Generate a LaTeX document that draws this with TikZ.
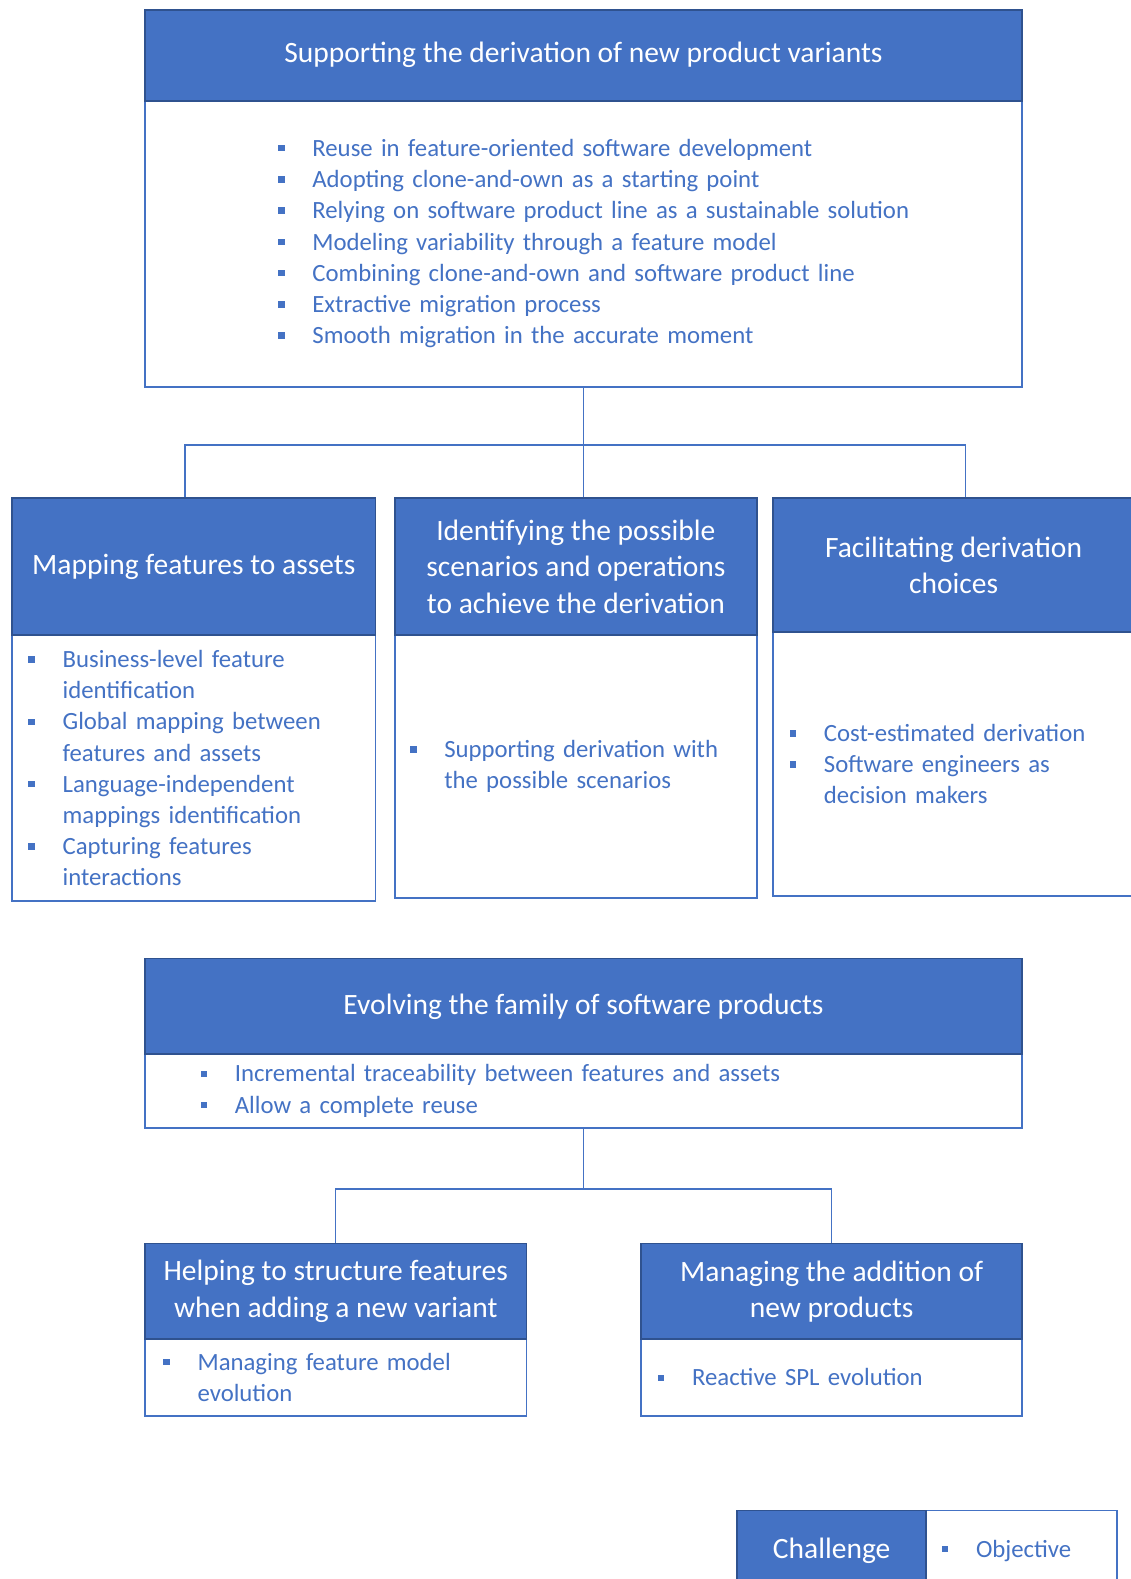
\documentclass[tikz,border=0pt]{standalone}
\usepackage{fontspec}
\setmainfont{Carlito}
\usepackage{tikz}
\usetikzlibrary{positioning,calc}
\definecolor{chblue}{HTML}{4472C4}
\definecolor{chline}{HTML}{2F528F}
\definecolor{objblue}{HTML}{4472C4}
\newcommand{\sqbul}{\textcolor{objblue}{\rule[0.2em]{0.26em}{0.26em}}}
\newenvironment{objlist}{\begin{list}{\sqbul}{\setlength{\leftmargin}{34pt}\setlength{\labelwidth}{34pt}\setlength{\labelsep}{0pt}%
  \setlength{\itemsep}{0pt}\setlength{\parsep}{0pt}\setlength{\topsep}{0pt}\setlength{\partopsep}{0pt}\def\makelabel##1{##1\hfil}}}{\end{list}}

\begin{document}
\begin{tikzpicture}[x=1pt, y=-1pt,
  hdr/.style={draw=chline, line width=1.8pt, fill=chblue, text=white, align=center, inner sep=0pt, anchor=north west, font=\fontsize{29.3pt}{36pt}\selectfont},
  body/.style={draw=chblue, line width=1.8pt, fill=white, inner sep=0pt, anchor=north west},
  lst/.style={text=objblue, align=left, inner sep=0pt, anchor=west, yshift=7pt, font=\fontsize{24.6pt}{31pt}\selectfont},
  link/.style={draw=chblue, line width=1.5pt}]

\useasboundingbox (0,0) rectangle (1123,1568);

\node[body, minimum width=871pt, minimum height=284pt] (btop) at (143,99) {};
\node[hdr, minimum width=871pt, minimum height=90pt] (htop) at (143,9) {Supporting the derivation of new product variants};
\node[lst, text width=720pt] (ltop) at ([xshift=133pt]btop.west) {\begin{objlist}\item Reuse in feature-oriented software development
  \item Adopting clone-and-own as a starting point \item Relying on software product line as a sustainable solution
  \item Modeling variability through a feature model \item Combining clone-and-own and software product line
  \item Extractive migration process \item Smooth migration in the accurate moment\end{objlist}};

\node[body, minimum width=361pt, minimum height=264pt] (bmap) at (11,630) {};
\node[hdr, minimum width=361pt, minimum height=136pt] (hmap) at (11,494) {Mapping features to assets};
\node[lst, text width=340pt] (lmap) at ([xshift=17pt]bmap.west) {\begin{objlist}\item Business-level feature\newline identification
  \item Global mapping between\newline features and assets \item Language-independent\newline mappings identification
  \item Capturing features\newline interactions\end{objlist}};

\node[body, minimum width=360pt, minimum height=261pt] (bscen) at (391,630) {};
\node[hdr, minimum width=360pt, minimum height=136pt] (hscen) at (391,494) {Identifying the possible\\scenarios and operations\\to achieve the derivation};
\node[lst, text width=340pt] (lscen) at ([xshift=16pt]bscen.west) {\begin{objlist}\item Supporting derivation with\newline the possible scenarios\end{objlist}};

\node[body, minimum width=358pt, minimum height=262pt] (bchoice) at (767,627) {};
\node[hdr, minimum width=358pt, minimum height=133pt] (hchoice) at (767,494) {Facilitating derivation\\choices};
\node[lst, text width=330pt] (lchoice) at ([xshift=17pt]bchoice.west) {\begin{objlist}\item Cost-estimated derivation
  \item Software engineers as\newline decision makers\end{objlist}};

\coordinate (split1) at ($(btop.south)+(0,57)$);
\draw[link] (btop.south) -- (split1);
\draw[link] (split1) -| ([xshift=-8.5pt]hmap.north);
\draw[link] (split1) -| ([xshift=12pt]hchoice.north);
\draw[link] (split1) -- (split1 |- hscen.north);

\node[body, minimum width=871pt, minimum height=73pt] (bevol) at (143,1046) {};
\node[hdr, minimum width=871pt, minimum height=95pt] (hevol) at (143,951) {Evolving the family of software products};
\node[lst, text width=720pt] (levol) at ([xshift=56pt]bevol.west) {\begin{objlist}\item Incremental traceability between features and assets
  \item Allow a complete reuse\end{objlist}};

\node[body, minimum width=379pt, minimum height=76pt] (bstruct) at (143,1329) {};
\node[hdr, minimum width=379pt, minimum height=95pt] (hstruct) at (143,1234) {Helping to structure features\\when adding a new variant};
\node[lst, text width=340pt] (lstruct) at ([xshift=19pt]bstruct.west) {\begin{objlist}\item Managing feature model\newline evolution\end{objlist}};

\node[body, minimum width=378pt, minimum height=76pt] (badd) at (636,1329) {};
\node[hdr, minimum width=378pt, minimum height=95pt] (hadd) at (636,1234) {Managing the addition of\\new products};
\node[lst, text width=340pt] (ladd) at ([xshift=17pt]badd.west) {\begin{objlist}\item Reactive SPL evolution\end{objlist}};

\coordinate (split2) at ($(bevol.south)+(0,60)$);
\draw[link] (bevol.south) -- (split2);
\draw[link] (split2) -| (hstruct.north);
\draw[link] (split2) -| (hadd.north);

\node[body, minimum width=189pt, minimum height=80pt] (bkey) at (919,1499) {};
\node[hdr, minimum width=188pt, minimum height=80pt] (hkey) at (731,1499) {Challenge};
\node[lst, text width=170pt] (lkey) at ([xshift=16pt]bkey.west) {\begin{objlist}\item Objective\end{objlist}};
\end{tikzpicture}
\end{document}
